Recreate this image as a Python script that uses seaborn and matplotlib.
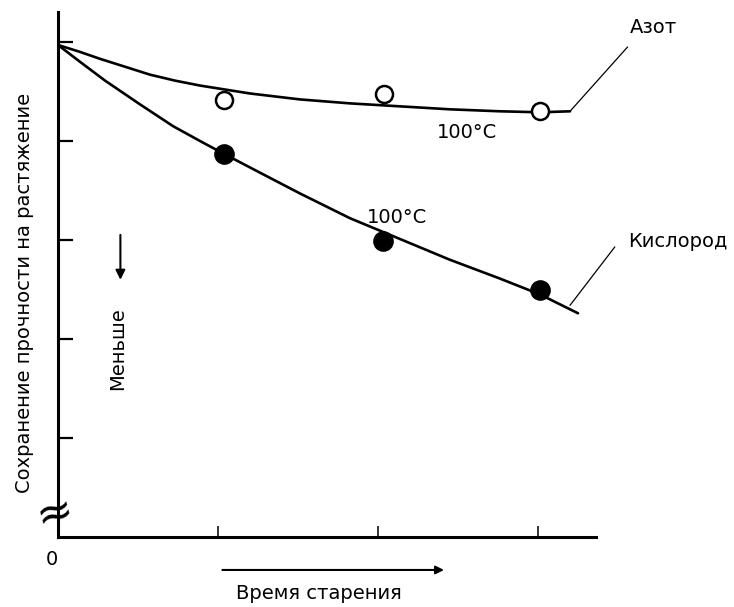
import pandas as pd
import matplotlib
matplotlib.use("Agg")
import matplotlib.pyplot as plt
import seaborn as sns

# --- data (x = ageing time, y = retained tensile strength) ---
azot_curve_x = [0.0, 0.1375, 0.2625, 0.419, 0.575, 0.731, 0.8875, 1.2, 1.5125,
                1.825, 2.1375, 2.45, 2.7625, 3.0125, 3.2]
azot_curve_y = [4.97, 4.90, 4.83, 4.75, 4.67, 4.61, 4.56, 4.48, 4.42,
                4.38, 4.35, 4.32, 4.30, 4.29, 4.30]
azot_points_x = [1.04, 2.04, 3.01]
azot_points_y = [4.41, 4.47, 4.30]

kisl_curve_x = [0.0, 0.1375, 0.294, 0.5125, 0.719, 0.8875, 1.0375, 1.2625, 1.5125,
                1.825, 2.1375, 2.45, 2.7625, 3.0125, 3.25]
kisl_curve_y = [4.97, 4.80, 4.61, 4.37, 4.15, 4.00, 3.87, 3.68, 3.47,
                3.22, 3.01, 2.80, 2.61, 2.45, 2.26]
kisl_points_x = [1.04, 2.03, 3.01]
kisl_points_y = [3.87, 2.99, 2.49]

x_ticks = [1, 2, 3]
y_ticks = [1, 2, 3, 4, 5]


def main():
    sns.set_style("white")
    plt.rcParams['font.family'] = ['DejaVu Sans']
    plt.rcParams['text.color'] = 'black'

    fig = plt.figure(figsize=(7.34, 6.07), dpi=100)
    ax = fig.add_axes([58 / 734, 70 / 607, 538 / 734, 525 / 607])

    azot_curve = pd.DataFrame({'x': azot_curve_x, 'y': azot_curve_y})
    kisl_curve = pd.DataFrame({'x': kisl_curve_x, 'y': kisl_curve_y})
    azot_pts = pd.DataFrame({'x': azot_points_x, 'y': azot_points_y})
    kisl_pts = pd.DataFrame({'x': kisl_points_x, 'y': kisl_points_y})

    sns.lineplot(data=azot_curve, x='x', y='y', sort=False, estimator=None,
                 color='black', linewidth=1.9, ax=ax)
    sns.lineplot(data=kisl_curve, x='x', y='y', sort=False, estimator=None,
                 color='black', linewidth=1.9, ax=ax)
    sns.scatterplot(data=azot_pts, x='x', y='y', marker='o', s=150,
                    facecolor='white', edgecolor='black', linewidth=1.8, zorder=3, ax=ax)
    sns.scatterplot(data=kisl_pts, x='x', y='y', marker='o', s=190,
                    color='black', edgecolor='black', zorder=3, ax=ax)

    ax.set_xlim(0, 538 / 160)
    ax.set_ylim(0, 525 / 99)
    ax.set_xticks(x_ticks)
    ax.set_yticks(y_ticks)
    ax.set_xticklabels([])
    ax.set_yticklabels([])
    ax.tick_params(axis='y', direction='in', length=11, width=1.6, color='black', left=True)
    ax.tick_params(axis='x', direction='in', length=8, width=1.1, color='black', bottom=True)
    ax.set_xlabel('')
    ax.set_ylabel('')
    sns.despine(ax=ax)
    for side in ['left', 'bottom']:
        ax.spines[side].set_linewidth(2.2)
        ax.spines[side].set_color('black')

    # leader lines to the gas labels
    ax.plot([azot_curve_x[-1], 3.56], [azot_curve_y[-1], 4.95],
            color='black', lw=0.9, clip_on=False)
    ax.plot([3.2, 3.48], [2.34, 2.93], color='black', lw=0.9, clip_on=False)

    fs = 14
    ax.text(3.575, 5.15, 'Азот', fontsize=fs, ha='left', va='center', clip_on=False)
    ax.text(3.5625, 2.98, 'Кислород', fontsize=fs, ha='left', va='center', clip_on=False)
    ax.text(2.556, 4.09, '100°C', fontsize=fs, ha='center', va='center')
    ax.text(2.12, 3.23, '100°C', fontsize=fs, ha='center', va='center')

    # "less" arrow inside the plot
    ax.annotate('', xy=(0.39, 2.57), xytext=(0.39, 3.08),
                arrowprops=dict(arrowstyle='-|>', color='black', lw=1.5,
                                mutation_scale=14))
    ax.text(0.375, 1.90, 'Меньше', fontsize=fs, rotation=90,
            ha='center', va='center')

    # axis texts
    ax.text(-0.063, 0.465, 'Сохранение прочности на растяжение', fontsize=fs,
            rotation=90, ha='center', va='center', transform=ax.transAxes)
    ax.text(1.63, -0.566, 'Время старения', fontsize=fs, ha='center', va='center',
            clip_on=False)
    ax.annotate('', xy=(2.43, -0.333), xytext=(1.01, -0.333),
                arrowprops=dict(arrowstyle='-|>', color='black', lw=1.5,
                                mutation_scale=12),
                annotation_clip=False)
    ax.text(-0.0375, -0.232, '0', fontsize=fs, ha='center', va='center', clip_on=False)

    # axis break mark
    ax.text(-0.02, 0.24, '≈', fontsize=32, ha='center', va='center',
            rotation=15, clip_on=False)

    fig.savefig('out.png', dpi=100)
    plt.close(fig)


if __name__ == "__main__":
    main()
